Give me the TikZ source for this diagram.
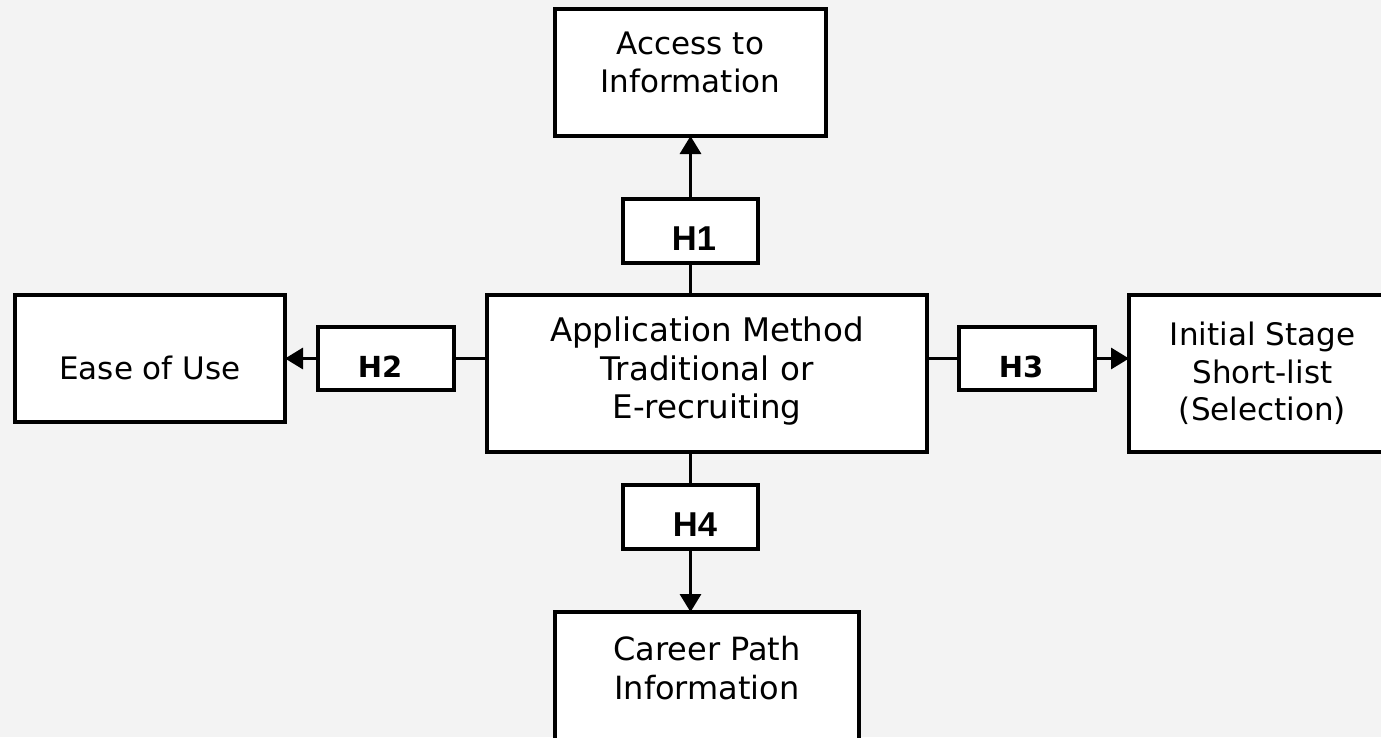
\documentclass[tikz,border=0pt]{standalone}
\usepackage{fontspec}
\setmainfont{DejaVu Sans}
\newfontfamily\arialb{Liberation Sans}
\usetikzlibrary{arrows.meta}
\definecolor{bgc}{RGB}{243,243,243}
\begin{document}
\begin{tikzpicture}[x=1pt,y=-1pt,
  box/.style={draw=black, line width=3.2pt, fill=white, inner sep=0pt, outer sep=0pt},
  lbl/.style={inner sep=0pt, align=center, font=\fontsize{31}{38}\selectfont},
  hA/.style={inner sep=0pt, anchor=base, font=\arialb\bfseries\fontsize{34.5}{40}\selectfont},
  hB/.style={inner sep=0pt, anchor=base, font=\bfseries\fontsize{29}{34}\selectfont},
  conn/.style={line width=3.2pt},
  arr/.style={line width=3.2pt, -{Triangle[length=18pt,width=21pt]}}
]
\useasboundingbox (0,0) rectangle (1381,737);
\clip (0,0) rectangle (1381,737);
\fill[bgc] (0,0) rectangle (1381,737);

% boxes
\node[box, minimum width=271pt, minimum height=127pt] (acc) at (690.5,72.5) {};
\node[box, minimum width=135pt, minimum height=64pt] (h1) at (690.5,231) {};
\node[box, minimum width=440pt, minimum height=157pt] (app) at (707,373.5) {};
\node[box, minimum width=270pt, minimum height=127pt] (ease) at (150,358.5) {};
\node[box, minimum width=136pt, minimum height=63pt] (h2) at (386,358.5) {};
\node[box, minimum width=136pt, minimum height=63pt] (h3) at (1027,358.5) {};
\node[box, minimum width=271pt, minimum height=157pt] (init) at (1264.5,373.5) {};
\node[box, minimum width=135pt, minimum height=64pt] (h4) at (690.5,517) {};
\node[box, minimum width=304pt, minimum height=140pt] (career) at (707,682) {};

% texts
\node[lbl, anchor=north] (tacc) at (690.5,32) {Access to\\Information};
\node[lbl, anchor=base] (tease) at (150,379) {Ease of Use};
\node[lbl, anchor=north, font=\fontsize{32.5}{38.5}\selectfont] (tapp) at (707,317) {Application Method\\Traditional or\\E-recruiting};
\node[lbl, anchor=north, font=\fontsize{31}{37.5}\selectfont] (tinit) at (1262.5,322) {Initial Stage\\Short-list\\(Selection)};
\node[lbl, anchor=north, font=\fontsize{32}{39}\selectfont] (tcar) at (707,636) {Career Path\\Information};
\node[hA] (th1) at (694,250) {H1};
\node[hA] (th4) at (695,536) {H4};
\node[hB] (th2) at (380,377) {H2};
\node[hB] (th3) at (1021,377) {H3};

% connectors
\draw[conn] (h1.south) -- (h1.south |- app.north);
\draw[arr] (h1.north) -- (acc.south);
\draw[conn] (h4.north |- app.south) -- (h4.north);
\draw[arr] (h4.south) -- (h4.south |- career.north);
\draw[conn] (h2.east) -- (h2.east -| app.west);
\draw[arr] (h2.west) -- (ease.east);
\draw[conn] (h3.west -| app.east) -- (h3.west);
\draw[arr] (h3.east) -- (h3.east -| init.west);
\end{tikzpicture}
\end{document}
